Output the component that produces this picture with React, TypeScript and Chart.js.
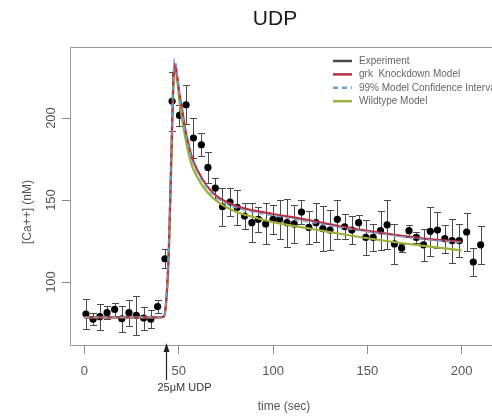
import { useEffect, useRef } from "react";
import { Chart, registerables } from "chart.js";

Chart.register(...registerables);

// ---- data ----
const expTime = [0.8, 4.6, 8.2, 12, 16, 19.8, 23.6, 27.5, 31.4, 35.2, 38.8, 42.7, 46.5, 50.4, 53.9, 57.8, 62, 65.5, 69.4, 73.2, 77.2, 81, 84.9, 88.8, 92.2, 96.1, 100, 103.5, 107.4, 111.2, 115.1, 119, 122.8, 126.4, 130.2, 134.1, 138, 141.8, 145.4, 149.2, 153.1, 157, 160.5, 164.4, 168.2, 172.1, 176, 179.8, 183.4, 187.2, 191.1, 195, 198.8, 202.7, 206.2, 210.1];
const expValue = [80.5, 77.3, 78.9, 81.3, 83.3, 77.6, 81.3, 79.7, 78, 77.3, 85, 114.2, 210.2, 201.6, 208.1, 187.8, 183.7, 169.9, 157.3, 145.9, 148.8, 145.5, 140.2, 136.2, 138.2, 135.4, 138.2, 138.2, 136.2, 135.4, 142.7, 133.3, 136.2, 132.5, 131.7, 138.2, 133.7, 131.7, 136.2, 127.2, 127.2, 131.3, 134.9, 123.2, 120.7, 131.3, 127.2, 122.7, 130.9, 131.7, 126.4, 125.2, 125.2, 130.5, 112.2, 122.7];
const expError = [9, 3.6, 8, 4, 4, 8, 8, 11.7, 7, 5.5, 4, 5.7, 18, 6.5, 12, 12, 7, 9.3, 6, 11.5, 8.7, 10.6, 8, 11.7, 7.6, 12.5, 9, 11.7, 14.7, 11.7, 7.6, 10.2, 11.7, 13.7, 12.2, 11.7, 7.6, 8.6, 4.6, 10.5, 8, 12, 14.9, 12.4, 2.5, 3.6, 3.6, 9.7, 15, 11.2, 8.6, 13.5, 10.2, 11.7, 8.6, 11.7];

const modelTime = [0, 20, 40, 42, 43, 44, 45, 46, 47, 47.7, 48.5, 49.5, 50.5, 52, 53, 54, 55, 57, 60, 65, 70, 80, 90, 100, 120, 140, 160, 180, 200];
const knockdownValue = [78.5, 78.5, 78.5, 78.8, 84, 100, 130, 175, 218, 233, 231, 223, 214, 204, 196, 190, 185, 176, 168, 158.5, 152.5, 146.5, 143.5, 141.5, 137.5, 133, 129.5, 126.5, 124.5];
const confidenceValue = [78.5, 78.5, 78.5, 78.8, 84, 101, 132, 178, 221, 236, 233, 224, 213, 202, 194, 188, 183, 174.5, 166.5, 157.5, 151.5, 145.5, 142.5, 140.5, 136.5, 132.5, 129, 126, 124];
const wildtypeValue = [78.5, 78.5, 78.5, 78.8, 83.5, 98, 126, 168, 212, 229, 228, 220, 209, 198, 191, 185, 179.5, 171, 163.5, 155, 149.5, 143, 139.5, 136.5, 132.5, 128.5, 125, 122, 119.3];

const xTicks = [0, 50, 100, 150, 200];
const yTicks = [100, 150, 200];
const stimulusTime = 43;
const stimulusLabel = "25μM UDP";
const titleText = "UDP";
const xTitle = "time (sec)";
const yTitle = "[Ca++] (nM)";

const FONT = "'Liberation Sans', Arial, sans-serif";

const decorPlugin = {
  id: "decor",
  beforeDatasetsDraw(chart: any) {
    const { ctx, chartArea: a, scales } = chart;
    const x = scales.x;
    const y = scales.y;
    ctx.save();
    // plot box (top, left, bottom)
    ctx.strokeStyle = "#9a9a9a";
    ctx.lineWidth = 1;
    ctx.beginPath();
    ctx.moveTo(chart.width, a.top + 0.5);
    ctx.lineTo(a.left + 0.5, a.top + 0.5);
    ctx.lineTo(a.left + 0.5, a.bottom + 0.5);
    ctx.lineTo(chart.width, a.bottom + 0.5);
    ctx.stroke();
    // error bars
    ctx.strokeStyle = "#4a4a4a";
    ctx.lineWidth = 1;
    expTime.forEach((t, i) => {
      const px = Math.round(x.getPixelForValue(t)) + 0.5;
      const top = Math.round(y.getPixelForValue(expValue[i] + expError[i])) + 0.5;
      const bot = Math.round(y.getPixelForValue(expValue[i] - expError[i])) + 0.5;
      ctx.beginPath();
      ctx.moveTo(px, top);
      ctx.lineTo(px, bot);
      ctx.moveTo(px - 3.5, top);
      ctx.lineTo(px + 3.5, top);
      ctx.moveTo(px - 3.5, bot);
      ctx.lineTo(px + 3.5, bot);
      ctx.stroke();
    });
    ctx.restore();
  },
  afterDraw(chart: any) {
    const { ctx, scales } = chart;
    const x = scales.x;
    ctx.save();
    // title
    ctx.fillStyle = "#1a1a1a";
    ctx.font = `21px ${FONT}`;
    ctx.textAlign = "center";
    ctx.textBaseline = "middle";
    ctx.fillText(titleText, 275, 19);
    // axis titles
    ctx.fillStyle = "#555";
    ctx.font = `12px ${FONT}`;
    ctx.fillText(xTitle, 284, 407);
    ctx.save();
    ctx.translate(28, 212);
    ctx.rotate(-Math.PI / 2);
    ctx.fillText(yTitle, 0, 0);
    ctx.restore();
    // stimulus arrow
    const ax = Math.round(x.getPixelForValue(stimulusTime)) + 0.5;
    ctx.strokeStyle = "#222";
    ctx.fillStyle = "#222";
    ctx.lineWidth = 1.2;
    ctx.beginPath();
    ctx.moveTo(ax, 350);
    ctx.lineTo(ax, 380);
    ctx.stroke();
    ctx.beginPath();
    ctx.moveTo(ax, 343);
    ctx.lineTo(ax - 3, 352);
    ctx.lineTo(ax + 3, 352);
    ctx.closePath();
    ctx.fill();
    ctx.font = `11px ${FONT}`;
    ctx.textAlign = "left";
    ctx.fillStyle = "#333";
    ctx.fillText(stimulusLabel, ax - 9, 388);
    // legend
    const ds = chart.data.datasets;
    ctx.font = `10px ${FONT}`;
    ctx.textBaseline = "middle";
    ds.forEach((d: any, i: number) => {
      const ly = 61 + i * 13.4;
      ctx.strokeStyle = d.legendColor || d.borderColor;
      ctx.lineWidth = 2.5;
      ctx.setLineDash(d.borderDash || []);
      ctx.beginPath();
      ctx.moveTo(333, ly);
      ctx.lineTo(352, ly);
      ctx.stroke();
      ctx.setLineDash([]);
      ctx.fillStyle = "#666";
      ctx.textAlign = "left";
      ctx.fillText(d.label, 359, ly);
    });
    ctx.restore();
  },
};

export default function App() {
  const canvasRef = useRef<HTMLCanvasElement | null>(null);

  useEffect(() => {
    const canvas = canvasRef.current;
    if (!canvas) return;
    const chart = new Chart(canvas, {
      type: "line",
      data: {
        datasets: [
          {
            label: "Experiment",
            data: expTime.map((t, i) => ({ x: t, y: expValue[i] })),
            showLine: false,
            borderColor: "#4a4a4a",
            legendColor: "#4a4a4a",
            backgroundColor: "#000",
            pointBackgroundColor: "#000",
            pointBorderColor: "#000",
            pointBorderWidth: 0,
            pointRadius: 3.6,
            order: 5,
          } as any,
          {
            label: "grk  Knockdown Model",
            data: modelTime.map((t, i) => ({ x: t, y: knockdownValue[i] })),
            borderColor: "#b8313f",
            borderWidth: 2.2,
            pointRadius: 0,
            cubicInterpolationMode: "monotone",
            order: 2,
          },
          {
            label: "99% Model Confidence Interval",
            data: modelTime.map((t, i) => ({ x: t, y: confidenceValue[i] })),
            borderColor: "#6fa0d8",
            borderWidth: 1.6,
            borderDash: [5, 4],
            pointRadius: 0,
            cubicInterpolationMode: "monotone",
            order: 1,
          },
          {
            label: "Wildtype Model",
            data: modelTime.map((t, i) => ({ x: t, y: wildtypeValue[i] })),
            borderColor: "#9fb03a",
            borderWidth: 2.2,
            pointRadius: 0,
            cubicInterpolationMode: "monotone",
            order: 3,
          },
        ],
      },
      options: {
        responsive: false,
        devicePixelRatio: 1,
        animation: false,
        layout: { padding: { top: 47, left: 0, right: -4, bottom: 0 } },
        plugins: {
          legend: { display: false },
          title: { display: false },
          tooltip: { enabled: false },
        },
        scales: {
          x: {
            type: "linear",
            min: -7.65,
            max: 214,
            afterBuildTicks: (s: any) => {
              s.ticks = xTicks.map((v) => ({ value: v }));
            },
            afterFit: (s: any) => {
              s.height = 75;
            },
            grid: { drawOnChartArea: false, drawTicks: true, tickLength: 9, color: "#8a8a8a" },
            border: { display: false },
            ticks: { font: { family: FONT, size: 13 }, color: "#555", padding: 10, maxRotation: 0 },
          },
          y: {
            type: "linear",
            min: 61.6,
            max: 243.3,
            afterBuildTicks: (s: any) => {
              s.ticks = yTicks.map((v) => ({ value: v }));
            },
            afterFit: (s: any) => {
              s.width = 70;
            },
            grid: { drawOnChartArea: false, drawTicks: true, tickLength: 8, color: "#8a8a8a" },
            border: { display: false },
            ticks: {
              font: { family: FONT, size: 13 },
              color: "#555",
              padding: 0,
              minRotation: 90,
              maxRotation: 90,
              crossAlign: "center",
            },
          },
        },
      } as any,
      plugins: [decorPlugin],
    });
    return () => chart.destroy();
  }, []);

  return (
    <div style={{ position: "fixed", left: 0, top: 0, width: 492, height: 420, background: "#fff" }}>
      <canvas ref={canvasRef} width={492} height={420} style={{ display: "block" }} />
    </div>
  );
}
